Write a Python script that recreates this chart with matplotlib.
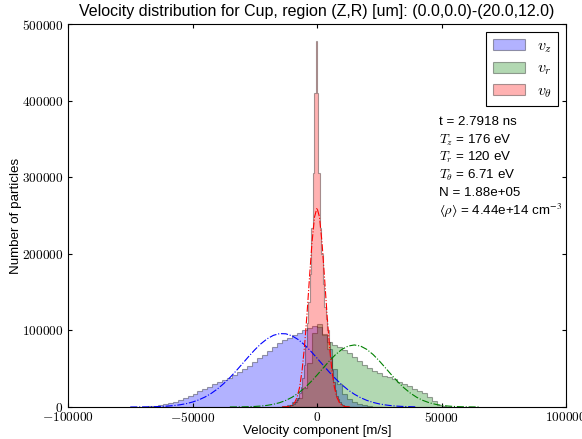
import numpy as np
import matplotlib
matplotlib.use('Agg')
import matplotlib.pyplot as plt
from matplotlib.ticker import FuncFormatter

plt.rcParams['font.family'] = ['Liberation Sans', 'DejaVu Sans']
plt.rcParams['mathtext.fontset'] = 'cm'
plt.rcParams['font.size'] = 12

# histogram data (bin edges in m/s, counts per bin)
vz_edges = np.arange(-70000, 26001, 2000)
vz_counts = [300, 800, 1500, 2500, 3500, 5000, 7000, 9000, 11500, 14500,
             17500, 20500, 23500, 26500, 29500, 32500, 35500, 38500, 42000, 45500,
             49500, 54000, 58500, 63500, 68500, 73000, 78000, 83000, 87000, 90000,
             93500, 97000, 100000, 103000, 106000, 104000, 94000, 76000, 50000, 30000,
             17000, 10000, 6000, 3500, 2000, 1000, 500, 200]

vr_edges = np.arange(-16000, 54001, 2000)
vr_counts = [300, 1000, 2500, 6000, 12000, 25000, 58000, 97000, 108000, 95000,
             85000, 81000, 78000, 74000, 70000, 65000, 60000, 55000, 51000, 47000,
             44000, 41000, 39000, 36000, 33000, 30000, 27000, 24000, 21500, 18000,
             13000, 7500, 3000, 900, 200]

vt_edges = np.arange(-15000, 15001, 600)
vt_counts = [100, 170, 270, 420, 650, 950, 1400, 2100, 3000, 4200,
             6000, 8500, 12000, 18000, 26000, 38000, 55000, 80000, 110000, 137000,
             174000, 234000, 305000, 410000, 478000, 410000, 305000, 234000, 200000, 160000,
             130000, 115000, 100000, 85000, 65000, 48000, 33000, 22000, 15000, 10000,
             6500, 4200, 2700, 1700, 1100, 700, 450, 290, 180, 110]

fz_x = np.arange(-75000, 40001, 2500)
fz_y = [42, 77, 140, 249, 428, 718, 1174, 1871, 2905, 4390,
        6470, 9280, 12990, 17710, 23510, 30420, 38340, 47090, 56350, 65690,
        74630, 82600, 89070, 93580, 95800, 95550, 92850, 87920, 81110, 72900,
        63840, 54480, 45290, 36690, 28950, 22260, 16680, 12170, 8660, 6000,
        4050, 2665, 1710, 1070, 650, 385, 222]

fr_x = np.arange(-35000, 65001, 2500)
fr_y = [50, 102, 202, 387, 713, 1264, 2160, 3560, 5650, 8640,
        12750, 18120, 24810, 32730, 41630, 51010, 60260, 68580, 75220, 79520,
        81000, 79520, 75220, 68580, 60260, 51010, 41630, 32730, 24810, 18120,
        12750, 8640, 5650, 3560, 2160, 1264, 713, 387, 202, 102, 50]

ft_x = np.arange(-14000, 14001, 1000)
ft_y = [24, 87, 286, 848, 2290, 5620, 12560, 25560, 47320, 79640,
        121900, 169800, 215200, 248000, 260000, 248000, 215200, 169800, 121900, 79640,
        47320, 25560, 12560, 5620, 2290, 848, 286, 87, 24]

info_lines = ['t = 2.7918 ns',
              r'$T_z$ = 176 eV',
              r'$T_r$ = 120 eV',
              r'$T_\theta$ = 6.71 eV',
              'N = 1.88e+05',
              r'$\langle\rho\rangle$ = 4.44e+14 cm$^{-3}$']

fig = plt.figure(figsize=(582/80, 439/80), dpi=80)
ax = fig.add_axes([68/582, 32/439, 498/582, 383/439])

edge = (0, 0, 0, 0.35)
ax.hist(vz_edges[:-1], bins=vz_edges, weights=vz_counts, histtype='stepfilled',
        facecolor=(0, 0, 1, 0.3), edgecolor=edge, linewidth=1, label=r'$v_z$')
ax.hist(vr_edges[:-1], bins=vr_edges, weights=vr_counts, histtype='stepfilled',
        facecolor=(0, 0.5, 0, 0.3), edgecolor=edge, linewidth=1, label=r'$v_r$')
ax.hist(vt_edges[:-1], bins=vt_edges, weights=vt_counts, histtype='stepfilled',
        facecolor=(1, 0, 0, 0.3), edgecolor=edge, linewidth=1, label=r'$v_\theta$')

ax.plot(fz_x, fz_y, 'b-.', lw=1)
ax.plot(fr_x, fr_y, 'g-.', lw=1)
ax.plot(ft_x, ft_y, 'r-.', lw=1)

ax.set_xlim(-100000, 100000)
ax.set_ylim(0, 500000)
ax.set_xticks([-100000, -50000, 0, 50000, 100000])
ax.set_yticks(range(0, 500001, 100000))
fmt = FuncFormatter(lambda v, p: r'$%d$' % v)
ax.xaxis.set_major_formatter(fmt)
ax.yaxis.set_major_formatter(fmt)
ax.tick_params(direction='in', top=True, right=True, length=4, width=1, labelsize=12)
ax.tick_params(axis='x', pad=3.5)
ax.tick_params(axis='y', pad=4)
for s in ax.spines.values():
    s.set_linewidth(1)

ax.set_title('Velocity distribution for Cup, region (Z,R) [um]: (0.0,0.0)-(20.0,12.0)',
             fontsize=14.4, pad=7)
ax.set_xlabel('Velocity component [m/s]', labelpad=0)
ax.set_ylabel('Number of particles', labelpad=0)

leg = ax.legend(loc='upper right', fancybox=False, framealpha=1, edgecolor='k',
                handlelength=2.0, handleheight=0.7, labelspacing=0.35,
                handletextpad=0.75, borderpad=0.4, borderaxespad=0.5, fontsize=14.4)
leg.get_frame().set_linewidth(1)

ys = [0.744, 0.697, 0.651, 0.606, 0.559, 0.512]
for i, (s, y) in enumerate(zip(info_lines, ys)):
    # the last line uses STIX for its math so the angle brackets stay text-sized
    mf = 'stix' if i == len(info_lines) - 1 else 'cm'
    ax.text(0.744, y, s, transform=ax.transAxes, va='center', ha='left',
            fontsize=12, math_fontfamily=mf)

fig.savefig('out.png', dpi=80)
